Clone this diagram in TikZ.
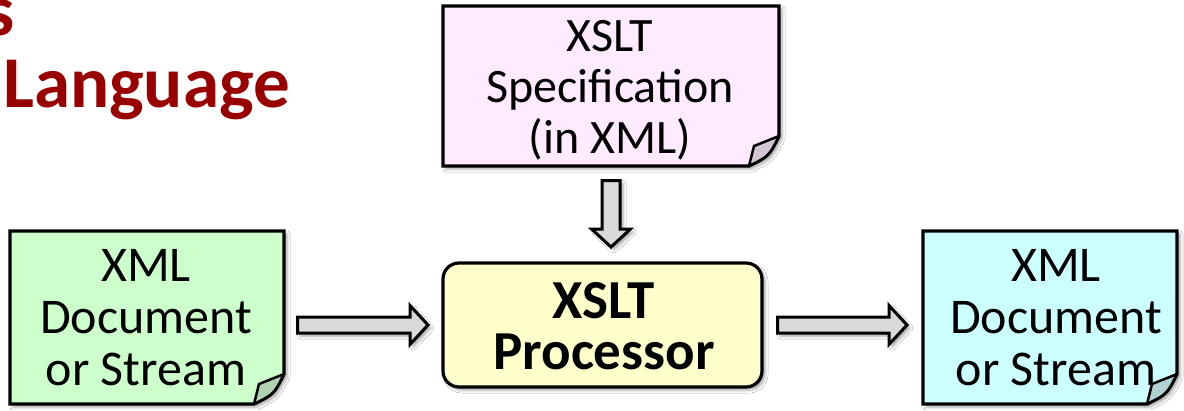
\documentclass[tikz,border=0pt]{standalone}
\usepackage{fontspec}
\setmainfont{Carlito}
\usetikzlibrary{calc,shadows.blur}
\definecolor{titlered}{RGB}{153,0,0}
\definecolor{pinkfill}{RGB}{255,234,255}
\definecolor{greenfill}{RGB}{204,255,204}
\definecolor{cyanfill}{RGB}{204,255,255}
\definecolor{yellowfill}{RGB}{255,255,204}
\definecolor{arrowfill}{RGB}{217,217,217}
\tikzset{
  softshadow/.style={blur shadow={shadow xshift=3pt, shadow yshift=-3pt, shadow blur radius=3pt, shadow opacity=35}},
  docframe/.style={draw=black, line width=3.2pt, line join=miter, softshadow},
  anchorbox/.style={inner sep=0pt, outer sep=0pt},
  doctext/.style={font=\fontsize{50}{52}\selectfont, align=center, inner sep=0pt},
  spectext/.style={font=\fontsize{48}{51}\selectfont, align=center, inner sep=0pt},
  proctext/.style={font=\bfseries\fontsize{55}{51}\selectfont, align=center, inner sep=0pt},
  titletext/.style={font=\bfseries\fontsize{73}{86}\selectfont, text=titlered, inner sep=0pt},
  blockarr/.style={draw=black, line width=3pt, fill=arrowfill, line join=miter, softshadow},
  flapstyle/.style={draw=black, line width=2.5pt, line join=round},
}
\newcommand\docoutline[2]{%
  \draw[docframe, fill=#2] (#1.north west) -- (#1.north east) -- ([yshift=30pt]#1.south east)
     .. controls ([xshift=-10pt,yshift=10pt]#1.south east) .. ([xshift=-30pt]#1.south east)
     -- (#1.south west) -- cycle;
  \draw[flapstyle, fill=#2!65!gray] ([yshift=30pt]#1.south east) -- ([xshift=-25pt,yshift=20pt]#1.south east)
     -- ([xshift=-30pt]#1.south east)
     .. controls ([xshift=-10pt,yshift=10pt]#1.south east) .. ([yshift=30pt]#1.south east) -- cycle;
}
\newcommand\harrow[2]{%
  \draw[blockarr] ($(#1)+(0,-8)$) -- ($(#2)+(-18,-8)$) -- ($(#2)+(-18,-19.5)$) -- (#2)
     -- ($(#2)+(-18,19.5)$) -- ($(#2)+(-18,8)$) -- ($(#1)+(0,8)$) -- cycle;
}
\begin{document}
\begin{tikzpicture}[x=1pt,y=-1pt]
\useasboundingbox (0,0) rectangle (1184,410);
\fill[white] (0,0) rectangle (1184,410);

% title fragments
\node[titletext, anchor=base east] (titleS) at (15,35) {s};
\node[titletext, anchor=base west] (title) at (3,107) {Language};

% frames (invisible anchor nodes)
\node[anchorbox, minimum width=336pt, minimum height=160pt] (spec) at (611,86) {};
\node[anchorbox, minimum width=274pt, minimum height=173pt] (in) at (147,317.5) {};
\node[anchorbox, minimum width=254pt, minimum height=173pt] (out) at (1050,317.5) {};
\node[anchorbox, minimum width=319pt, minimum height=124pt] (proc) at (602.5,325) {};

\docoutline{spec}{pinkfill}
\docoutline{in}{greenfill}
\docoutline{out}{cyanfill}
\draw[docframe, fill=yellowfill, rounded corners=16pt] (proc.north west) rectangle (proc.south east);

% texts
\node[spectext] (specT) at (610,90) {XSLT\\Specification\\(in XML)};
\node[doctext] (inT) at (146,317.5) {XML\\Document\\or Stream};
\node[doctext] (outT) at (1056,317.5) {XML\\Document\\or Stream};
\node[proctext] (procT) at (604,326) {XSLT\\Processor};

% connectors
\coordinate (a1s) at ($(in.east |- proc.west)+(13.5,0)$);
\coordinate (a1e) at ($(proc.west)+(-15,0)$);
\harrow{a1s}{a1e}
\coordinate (a2s) at ($(proc.east)+(15.5,0)$);
\coordinate (a2e) at ($(out.west |- proc.east)+(-16,0)$);
\harrow{a2s}{a2e}
\coordinate (a3s) at ($(spec.south)+(0,14.5)$);
\coordinate (a3e) at ($(spec.south |- proc.north)+(0,-16)$);
\draw[blockarr] ($(a3s)+(-9,0)$) -- ($(a3e)+(-9,-18)$) -- ($(a3e)+(-19.5,-18)$) -- (a3e)
   -- ($(a3e)+(19.5,-18)$) -- ($(a3e)+(9,-18)$) -- ($(a3s)+(9,0)$) -- cycle;
\end{tikzpicture}
\end{document}
